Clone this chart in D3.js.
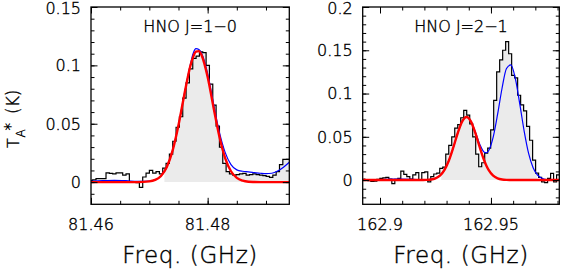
<!DOCTYPE html>
<html><head><meta charset="utf-8">
<script src="https://cdn.jsdelivr.net/npm/d3@7"></script>
<style>
body{margin:0;background:#fff}
svg{display:block}
text{font-family:"DejaVu Sans",sans-serif;font-weight:200;fill:#000;stroke:#000;stroke-width:0.4px}
</style>
</head><body>
<svg id="c" width="562" height="269"></svg>
<script>
// ---------------- DATA ----------------
// Left panel: HNO J=1-0 spectrum (channel centres start + k*step, GHz), T_A* (K)
const leftTitle = "HNO J=1\u22120";
const leftChanStart = 81.46, leftChanStep = 0.000572;
const leftSpec = [0.0015,0.002,0.003,0.003,0.003,0.008,0.0075,0.007,0.008,0.008,
  0.006,0.007,0.0,0.0,-0.0005,-0.0045,0.0044,0.0077,0.010,0.0077,
  0.009,0.007,0.012,0.016,0.024,0.035,0.047,0.056,0.072,0.085,
  0.097,0.106,0.108,0.1116,0.111,0.100,0.084,0.066,0.048,0.030,
  0.016,0.009,0.007,0.006,0.0065,0.007,0.0075,0.006,0.0065,0.007,
  0.0065,0.006,0.0055,0.005,0.004,0.006,0.009,0.015,0.0195,0.0195,0.0195];
const leftFitFreq = [81.460,81.462,81.464,81.466,81.468,81.470,81.471,81.472,81.473,81.474,81.475,81.476,81.477,81.4775,81.478,81.4785,81.479,81.480,81.481,81.482,81.483,81.484,81.485,81.486,81.487,81.488,81.489,81.490,81.491,81.492,81.493,81.494];
const leftTotalFit = [0.0006,0.0012,0.0015,0.0012,0.0006,0.0008,0.0020,0.0054,0.0131,0.0274,0.0490,0.0755,0.0998,0.1100,0.1143,0.1135,0.1100,0.0930,0.0675,0.0430,0.0255,0.0150,0.0105,0.0093,0.0088,0.0082,0.0076,0.0072,0.0076,0.0095,0.0128,0.0170];
const leftLineFit  = [0,0,0,0,0,0.0006,0.0019,0.0053,0.0130,0.0272,0.0487,0.0749,0.0988,0.1071,0.1117,0.1122,0.1083,0.0901,0.0642,0.0393,0.0206,0.0093,0.0036,0.0012,0.0003,0.0001,0,0,0,0,0,0];
const leftWindow = [81.4725, 81.4950];
const leftXDomain = [81.46, 81.494], leftYDomain = [-0.019, 0.15];
const leftXMajor = [81.46, 81.48], leftXLabels = ["81.46","81.48"];
const leftYMajor = [0, 0.05, 0.1, 0.15], leftYLabels = ["0","0.05","0.1","0.15"];

// Right panel: HNO J=2-1
const rightTitle = "HNO J=2\u22121";
const rightChanStart = 162.8925, rightChanStep = 0.00135;
const rightSpec = [0.001,0.0005,-0.0006,-0.0015,-0.0012,0.0008,0.002,0.0025,0.003,0.001,
  -0.004,0.0008,0.002,0.0104,0.0066,0.004,0.001,0.006,0.0085,0.0,
  0.0085,0.0095,-0.002,0.004,0.007,
  0.008,0.0135,0.015,0.030,0.040,0.050,0.060,0.064,0.072,0.0805,
  0.075,0.065,0.050,0.030,0.0154,0.020,0.031,0.037,0.058,0.092,
  0.125,0.139,0.150,0.160,0.146,0.121,0.118,0.098,0.087,0.080,
  0.062,0.046,0.023,0.008,0.003,-0.002,-0.003,0.002,0.0077,-0.002,0.006,0.004];
const rightFitFreq = [162.892,162.900,162.905,162.910,162.915,162.919,162.921,162.923,162.925,162.927,162.929,162.931,162.933,162.935,162.937,162.939,162.941,162.943,162.945,162.947,162.948,162.949,162.951,162.953,162.955,162.957,162.959,162.961,162.963,162.965,162.967,162.969,162.971,162.973,162.975,162.977,162.981];
const rightTotalFit = [0.0003,0.0005,0.0010,0.0012,0.0008,0.0003,0.0003,0.0007,0.0019,0.0051,0.0115,0.0223,0.0374,0.0541,0.0676,0.0729,0.0679,0.0553,0.0411,0.0322,0.0316,0.0342,0.0496,0.0761,0.1061,0.1289,0.1331,0.1171,0.0878,0.0561,0.0305,0.0142,0.0057,0.0020,0.0006,0.0002,0];
const rightLineFit  = [0,0,0,0,0,0.0001,0.0002,0.0006,0.0019,0.0051,0.0115,0.0223,0.0374,0.0541,0.0676,0.0728,0.0676,0.0541,0.0374,0.0223,0.0163,0.0115,0.0051,0.0019,0.0006,0.0002,0.0001,0,0,0,0,0,0,0,0,0,0];
const rightWindow = [162.9265, 162.9720];
const rightXDomain = [162.8922, 162.9808], rightYDomain = [-0.028, 0.2];
const rightXMajor = [162.9, 162.95], rightXLabels = ["162.9","162.95"];
const rightYMajor = [0, 0.05, 0.1, 0.15, 0.2], rightYLabels = ["0","0.05","0.1","0.15","0.2"];

const xTitle = "Freq. (GHz)";

// ---------------- DRAW ----------------
const svg = d3.select("#c");

function panel(id, box, cfg) {
  const x = d3.scaleLinear().domain(cfg.xDomain).range([box.x0, box.x1]);
  const y = d3.scaleLinear().domain(cfg.yDomain).range([box.y1, box.y0]);
  const g = svg.append("g");
  g.append("clipPath").attr("id", "clip" + id).append("rect")
    .attr("x", box.x0).attr("y", box.y0).attr("width", box.x1 - box.x0).attr("height", box.y1 - box.y0);
  const pg = g.append("g").attr("clip-path", `url(#clip${id})`);

  const spec = cfg.spec.map((v, k) => ({f: cfg.chanStart + k * cfg.chanStep, v}));
  const win = spec.filter(d => d.f >= cfg.window[0] && d.f <= cfg.window[1]);
  pg.append("path").datum(win)
    .attr("fill", "#ebebeb")
    .attr("d", d3.area().curve(d3.curveStep).x(d => x(d.f)).y0(y(0)).y1(d => y(d.v)));
  pg.append("path").datum(spec)
    .attr("fill", "none").attr("stroke", "#000").attr("stroke-width", 1.2)
    .attr("d", d3.line().curve(d3.curveStep).x(d => x(d.f)).y(d => y(d.v)));
  const fitLine = d3.line().curve(d3.curveMonotoneX).x(d => x(d[0])).y(d => y(d[1]));
  pg.append("path").datum(d3.zip(cfg.fitFreq, cfg.totalFit))
    .attr("fill", "none").attr("stroke", "#0000ff").attr("stroke-width", 1.2).attr("d", fitLine);
  pg.append("path").datum(d3.zip(cfg.fitFreq, cfg.lineFit))
    .attr("fill", "none").attr("stroke", "#ff0000").attr("stroke-width", 2.4).attr("d", fitLine);

  // ticks (inside, all four sides)
  const xMinor = d3.range(cfg.xMajor[0] - 20 * cfg.xMinorStep, cfg.xDomain[1] + 1e-9, cfg.xMinorStep)
    .filter(v => v >= cfg.xDomain[0] - 1e-9 && v <= cfg.xDomain[1] + 1e-9);
  const yMinor = d3.range(0, cfg.yDomain[1] + 1e-9, 0.01).concat(d3.range(-0.01, cfg.yDomain[0] - 1e-9, -0.01));
  const clean = s => s.call(a => a.select(".domain").remove()).selectAll("line").attr("stroke", "#000").attr("stroke-width", 1);
  const mk = (axisFn, scale, vals, size, tr) => {
    const a = g.append("g").attr("transform", tr)
      .call(axisFn(scale).tickValues(vals).tickSizeInner(-size).tickSizeOuter(0).tickFormat(""));
    clean(a);
  };
  [[xMinor, 3.5], [cfg.xMajor, 6.5]].forEach(([vals, s]) => {
    mk(d3.axisBottom, x, vals, s, `translate(0,${box.y1})`);
    mk(d3.axisTop, x, vals, s, `translate(0,${box.y0})`);
  });
  [[yMinor, 3.5], [cfg.yMajor, 6.5]].forEach(([vals, s]) => {
    mk(d3.axisLeft, y, vals, s, `translate(${box.x0},0)`);
    mk(d3.axisRight, y, vals, s, `translate(${box.x1},0)`);
  });

  g.append("rect").attr("x", box.x0).attr("y", box.y0)
    .attr("width", box.x1 - box.x0).attr("height", box.y1 - box.y0)
    .attr("fill", "none").attr("stroke", "#000").attr("stroke-width", 1.3);

  // tick labels
  g.selectAll(".xl").data(cfg.xMajor).join("text")
    .attr("x", d => x(d)).attr("y", 230).attr("text-anchor", "middle")
    .style("font-size", "16px").text((d, i) => cfg.xLabels[i]);
  g.selectAll(".yl").data(cfg.yMajor).join("text")
    .attr("x", box.x0 - 10).attr("y", d => Math.max(y(d), 8.5)).attr("dy", "0.36em").attr("text-anchor", "end")
    .style("font-size", "16px").text((d, i) => cfg.yLabels[i]);

  // panel title
  g.append("text").attr("x", (box.x0 + box.x1) / 2).attr("y", 32).attr("text-anchor", "middle")
    .style("font-size", "16px").style("white-space", "pre").text(cfg.title);
  // x title
  g.append("text").attr("x", (box.x0 + box.x1) / 2).attr("y", 263).attr("text-anchor", "middle")
    .style("font-size", "23px").style("letter-spacing", "0.6px").text(xTitle);
}

panel("L", {x0: 91, x1: 289.3, y0: 7, y1: 204.3}, {
  xDomain: leftXDomain, yDomain: leftYDomain, spec: leftSpec, chanStart: leftChanStart, chanStep: leftChanStep,
  window: leftWindow, fitFreq: leftFitFreq, totalFit: leftTotalFit, lineFit: leftLineFit,
  xMajor: leftXMajor, xLabels: leftXLabels, xMinorStep: 0.005, yMajor: leftYMajor, yLabels: leftYLabels, title: leftTitle
});
panel("R", {x0: 362.7, x1: 559.3, y0: 7, y1: 204.3}, {
  xDomain: rightXDomain, yDomain: rightYDomain, spec: rightSpec, chanStart: rightChanStart, chanStep: rightChanStep,
  window: rightWindow, fitFreq: rightFitFreq, totalFit: rightTotalFit, lineFit: rightLineFit,
  xMajor: rightXMajor, xLabels: rightXLabels, xMinorStep: 0.01, yMajor: rightYMajor, yLabels: rightYLabels, title: rightTitle
});

// y axis title  T_A^*(K)
const yt = svg.append("g").attr("transform", "translate(19,148) rotate(-90)");
yt.append("text").attr("x", 0).attr("y", 0).style("font-size", "16px").text("T");
yt.append("text").attr("x", 10.5).attr("y", 6).style("font-size", "12px").text("A");
yt.append("text").attr("x", 17.5).attr("y", -3).style("font-size", "15px").text("*");
yt.append("text").attr("x", 34).attr("y", 0).style("font-size", "17px").text("(K)");
</script>
</body></html>
